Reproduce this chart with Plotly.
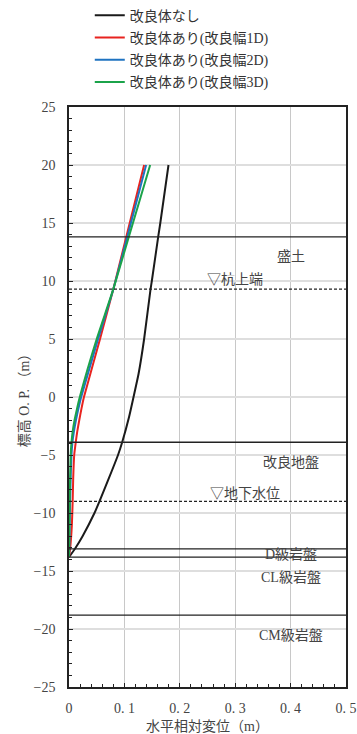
import plotly.graph_objects as go

# Horizontal relative displacement profiles (m) versus elevation O.P. (m)
elev_none = [20, 15, 13.8, 10, 9.3, 5, 2, 0, -1.7, -3.9, -5, -7, -9, -10, -12, -13.1, -13.8]
disp_none = [0.1796, 0.1648, 0.161, 0.1495, 0.1472, 0.1356, 0.1256, 0.1165, 0.1085, 0.096,
             0.0885, 0.072, 0.055, 0.046, 0.0245, 0.0105, 0.0]

elev_imp = [20, 9.3, 5, 0, -1, -2, -3, -3.9, -5, -7, -9, -11, -13, -13.8]
disp_1d = [0.1356, 0.080, 0.056, 0.027, 0.0225, 0.0185, 0.0148, 0.0122, 0.0094, 0.0076,
           0.0066, 0.0052, 0.0022, 0.0]
disp_2d = [0.1392, 0.080, 0.0525, 0.022, 0.017, 0.0125, 0.0088, 0.0062, 0.0045, 0.003,
           0.002, 0.0012, 0.0005, 0.0]
disp_3d = [0.1465, 0.080, 0.050, 0.0195, 0.0145, 0.010, 0.0065, 0.0045, 0.003, 0.002,
           0.0013, 0.0008, 0.0003, 0.0]

series_names = ["改良体なし", "改良体あり(改良幅1D)", "改良体あり(改良幅2D)", "改良体あり(改良幅3D)"]
series_colors = ["#1a1a1a", "#e8231f", "#1f73c1", "#1ba34a"]

# Stratum boundaries and reference levels (m)
boundary_solid = [13.8, -3.9, -13.1, -13.8, -18.8]
boundary_dashed = [9.3, -9.0]

# Stratum / level labels
label_text = ["盛土", "▽杭上端", "改良地盤", "▽地下水位", "D級岩盤", "CL級岩盤", "CM級岩盤"]
label_x = [0.40, 0.30, 0.40, 0.318, 0.40, 0.40, 0.40]
label_y = [12.07, 10.12, -5.66, -8.33, -13.56, -15.52, -20.6]

x_tickvals = [0, 0.1, 0.2, 0.3, 0.4, 0.5]
x_ticktext = ["0", "0. 1", "0. 2", "0. 3", "0. 4", "0. 5"]
y_tickvals = [25, 20, 15, 10, 5, 0, -5, -10, -15, -20, -25]
y_ticktext = ["25", "20", "15", "10", "5", "0", "−5", "−10", "−15", "−20", "−25"]

FONT = "Liberation Serif, Noto Sans CJK JP"

fig = go.Figure()
for name, color, xs, ys in zip(series_names, series_colors,
                               [disp_none, disp_1d, disp_2d, disp_3d],
                               [elev_none, elev_imp, elev_imp, elev_imp]):
    fig.add_trace(go.Scatter(
        x=xs, y=ys, mode="lines", name=name, legendgroup=name,
        line=dict(color=color, width=2, shape="spline", smoothing=0.5),
    ))

for lv in boundary_solid:
    fig.add_shape(type="line", xref="paper", yref="y", x0=0, x1=1, y0=lv, y1=lv,
                  line=dict(color="#222222", width=1.3))
for lv in boundary_dashed:
    fig.add_shape(type="line", xref="paper", yref="y", x0=0, x1=1, y0=lv, y1=lv,
                  line=dict(color="#222222", width=1.3, dash="3px,2px"))

for t, lx, ly in zip(label_text, label_x, label_y):
    fig.add_annotation(x=lx, y=ly, text=t, showarrow=False,
                       font=dict(family=FONT, size=14, color="#444444"))

fig.update_layout(
    width=357, height=734,
    margin=dict(l=69, r=11, t=107, b=47, autoexpand=False),
    paper_bgcolor="white", plot_bgcolor="white",
    font=dict(family=FONT, size=14, color="#444444"),
    showlegend=True,
    legend=dict(x=0.075, y=1.185, xanchor="left", yanchor="top",
                bgcolor="rgba(0,0,0,0)", tracegroupgap=1,
                font=dict(family=FONT, size=14, color="#333333"),
                itemwidth=30),
    xaxis=dict(
        range=[0, 0.5], tickvals=x_tickvals, ticktext=x_ticktext,
        showgrid=True, gridcolor="#c8c8c8", gridwidth=1,
        zeroline=False, showline=True, linecolor="#222222", linewidth=1.5, mirror=True,
        ticks="inside", ticklen=4, tickcolor="#222222", tickwidth=1,
        minor=dict(dtick=0.02, ticks="inside", ticklen=3, tickcolor="#222222", showgrid=False),
        ticklabelstandoff=7,
        title=dict(text="水平相対変位（m）", font=dict(family=FONT, size=14, color="#444444"),
                   standoff=9),
    ),
    yaxis=dict(
        range=[-25, 25], tickvals=y_tickvals, ticktext=y_ticktext,
        showgrid=True, gridcolor="#dedede", gridwidth=2,
        zeroline=False, showline=True, linecolor="#222222", linewidth=1.5, mirror=True,
        ticks="inside", ticklen=4, tickcolor="#222222", tickwidth=1,
        minor=dict(dtick=1, ticks="inside", ticklen=3, tickcolor="#222222", showgrid=False),
        ticklabelstandoff=9,
        title=dict(text="標高 O. P. （m）", font=dict(family=FONT, size=14, color="#444444"),
                   standoff=1),
    ),
)

fig.write_html("out.html")
